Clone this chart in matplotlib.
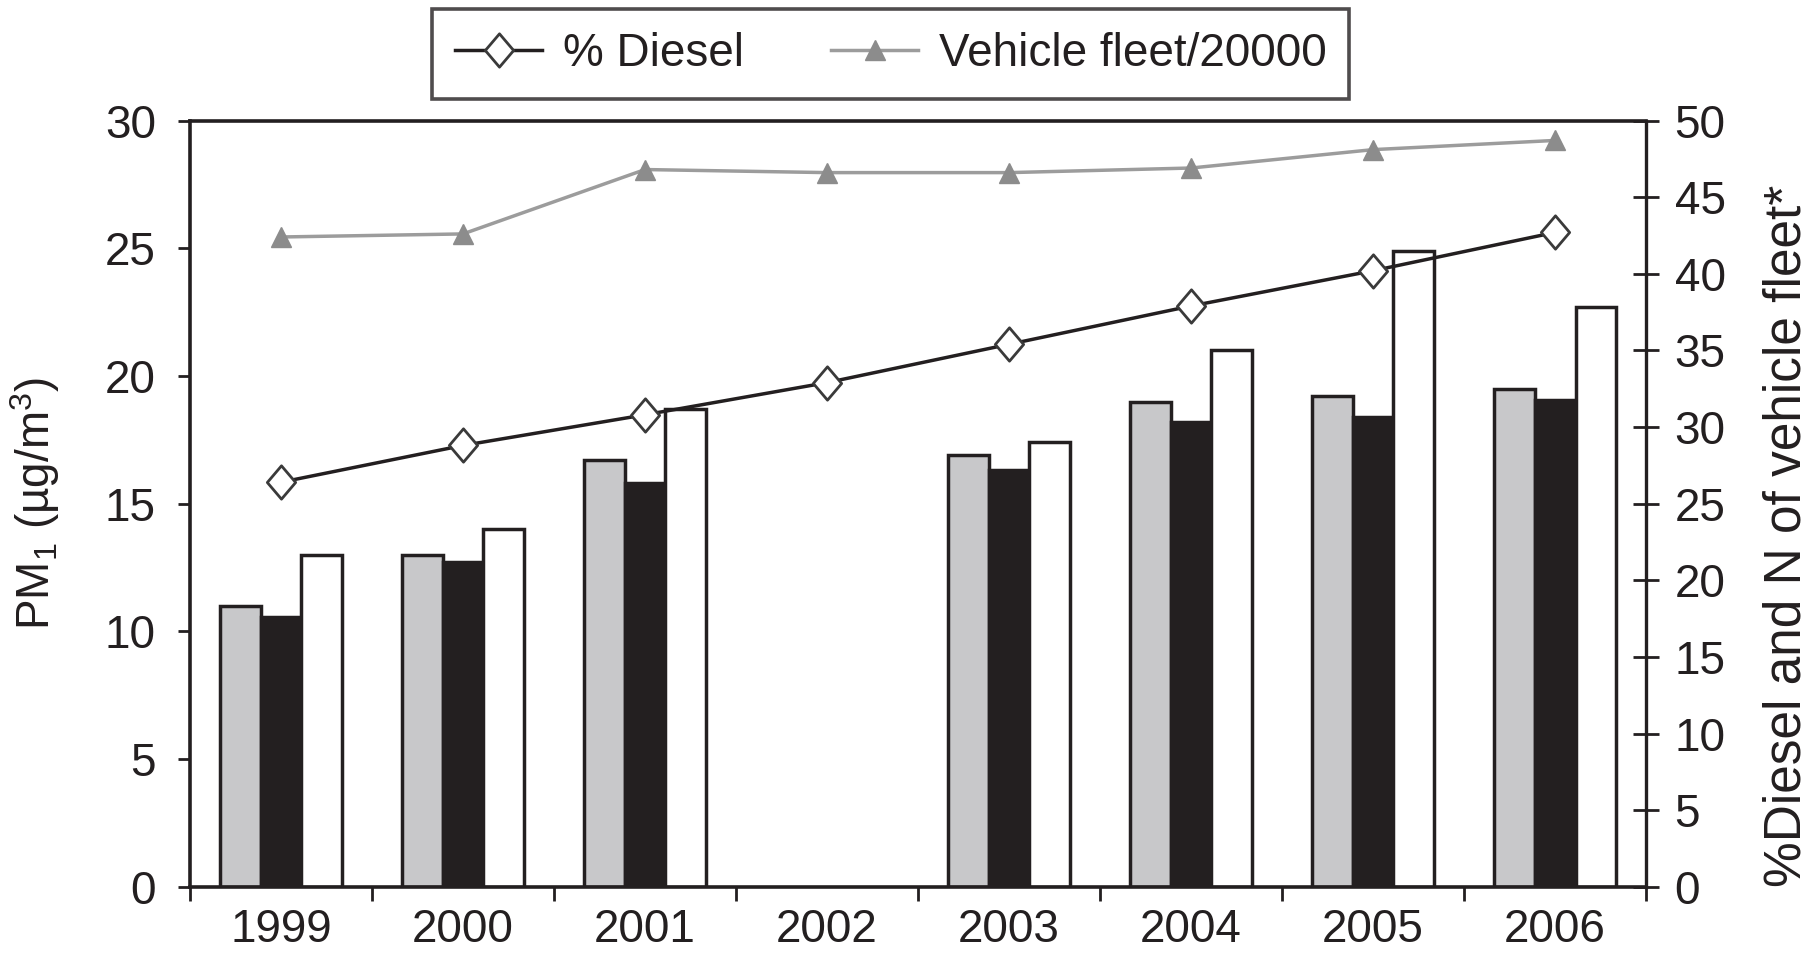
import numpy as np
import matplotlib
matplotlib.use('Agg')
import matplotlib.pyplot as plt
from matplotlib.path import Path

# data
years = ['1999', '2000', '2001', '2002', '2003', '2004', '2005', '2006']
pm1_gray = [11.0, 13.0, 16.7, np.nan, 16.9, 19.0, 19.2, 19.5]
pm1_black = [10.55, 12.7, 15.8, np.nan, 16.3, 18.2, 18.4, 19.05]
pm1_white = [13.0, 14.0, 18.7, np.nan, 17.4, 21.0, 24.9, 22.7]
diesel_pct = [26.4, 28.8, 30.8, 32.9, 35.4, 37.9, 40.2, 42.7]
fleet_20000 = [42.4, 42.6, 46.8, 46.6, 46.6, 46.9, 48.1, 48.7]

ink = '#231f20'
fs = 33

plt.rcParams['font.family'] = ['Liberation Sans', 'DejaVu Sans']
plt.rcParams['mathtext.fontset'] = 'custom'
plt.rcParams['mathtext.rm'] = 'Liberation Sans'
plt.rcParams['mathtext.it'] = 'Liberation Sans:italic'
plt.rcParams['text.color'] = ink

fig = plt.figure(figsize=(18.09, 9.64), dpi=100)
ax = fig.add_axes([0.105, 0.080, 0.805, 0.795])

x = np.arange(len(years))
w = 0.2236
ax.bar(x - w, pm1_gray, w, color='#c8c8ca', edgecolor=ink, linewidth=2.5)
ax.bar(x, pm1_black, w, color=ink, edgecolor=ink, linewidth=2.5)
ax.bar(x + w, pm1_white, w, color='white', edgecolor=ink, linewidth=2.5)
ax.set_xlim(-0.5, 7.5)
ax.set_ylim(0, 30)

# x: ticks at the category borders, labels in the middle
ax.set_xticks(np.arange(-0.5, 8, 1))
ax.tick_params(axis='x', which='major', direction='out', length=10, width=2,
               color=ink, labelbottom=False)
ax.set_xticks(x, minor=True)
ax.set_xticklabels(years, minor=True)
ax.tick_params(axis='x', which='minor', length=0, pad=15, labelsize=fs, labelcolor=ink)

ax.set_yticks(range(0, 31, 5))
ax.tick_params(axis='y', direction='out', length=8.5, width=2, pad=16,
               labelsize=fs, color=ink, labelcolor=ink)
for s in ['left', 'bottom', 'top']:
    ax.spines[s].set_linewidth(2.6)
    ax.spines[s].set_color(ink)
ax.spines['right'].set_visible(False)

ax.set_ylabel('PM$_1$ (µg/m$^3$)', fontsize=fs, color=ink)
ax.yaxis.set_label_coords(-0.088, 0.50)

ax2 = ax.twinx()
ax2.set_ylim(0, 50)
diamond = Path([(0, 1), (0.85, 0), (0, -1), (-0.85, 0), (0, 1)],
               [Path.MOVETO, Path.LINETO, Path.LINETO, Path.LINETO, Path.CLOSEPOLY])
ax2.plot(x, diesel_pct, color=ink, lw=2.5, marker=diamond, ms=24,
         mfc='white', mec='#3a3a3a', mew=2, label='% Diesel')
ax2.plot(x, fleet_20000, color='#9c9c9c', lw=2.5, marker='^', ms=15,
         mfc='#8c8c8c', mec='#8c8c8c', label='Vehicle fleet/20000')
ax2.set_yticks(range(0, 51, 5))
ax2.tick_params(axis='y', direction='inout', length=19, width=2, pad=11,
                labelsize=fs, color=ink, labelcolor=ink)
for s in ['left', 'bottom', 'top']:
    ax2.spines[s].set_visible(False)
ax2.spines['right'].set_linewidth(2.4)
ax2.spines['right'].set_color(ink)
ax2.set_ylabel('%Diesel and N of vehicle fleet*', fontsize=37, color=ink)
ax2.yaxis.set_label_coords(1.080, 0.458)

leg = fig.legend(loc='center', bbox_to_anchor=(0.4925, 0.944), ncol=2,
                 fontsize=fs, frameon=True, fancybox=False, edgecolor=ink,
                 handlelength=1.9, handletextpad=0.45, columnspacing=1.9,
                 borderpad=0.5)
leg.get_frame().set_linewidth(2.6)

fig.savefig('out.png', dpi=100)
